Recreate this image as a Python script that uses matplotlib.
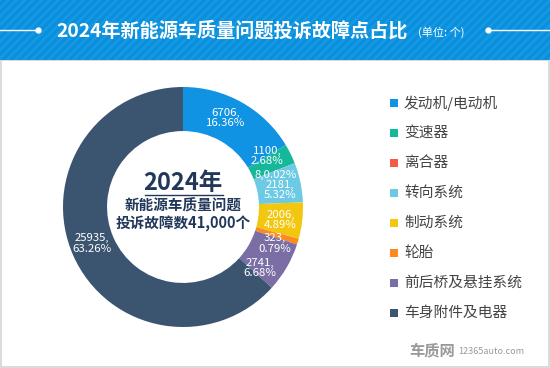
import matplotlib
matplotlib.use("Agg")
import matplotlib.pyplot as plt
from matplotlib.patches import Rectangle
import numpy as np

plt.rcParams['font.family'] = ['Noto Sans CJK SC', 'DejaVu Sans']
plt.rcParams['hatch.linewidth'] = 2.0

# 数据
categories = ['发动机/电动机', '变速器', '离合器', '转向系统', '制动系统', '轮胎', '前后桥及悬挂系统', '车身附件及电器']
counts = [6706, 1100, 8, 2181, 2006, 323, 2741, 25935]
percents = ['16.36%', '2.68%', '0.02%', '5.32%', '4.89%', '0.79%', '6.68%', '63.26%']
colors = ['#0f93e2', '#16b89b', '#f45a44', '#6ccae5', '#f3c70f', '#fc8a1e', '#7a6ea4', '#3b5470']
# 标签角度微调（度，顺时针为正），避免小扇区标签重叠
label_shift = [-4, -5, 2.5, 2, 1, 5, 8, 2]

W, H = 550, 368
fig = plt.figure(figsize=(W / 100, H / 100), dpi=100)
fig.patch.set_facecolor('white')

# 背景：顶部蓝色标题栏 + 白色面板
bg = fig.add_axes([0, 0, 1, 1])
bg.set_xlim(0, W)
bg.set_ylim(H, 0)
bg.axis('off')
bg.add_patch(Rectangle((0.5, 60), W - 1.5, H - 61, facecolor='white', edgecolor='#d4d4d4', lw=1.2))
bg.add_patch(Rectangle((0, 0), W, 60, facecolor='#0a8fdc', edgecolor='#1699e4', hatch='////', lw=0))
bg.text(232, 31, '2024年新能源车质量问题投诉故障点占比', color='white', fontsize=13.8,
        fontweight='bold', ha='center', va='center')
bg.text(441, 32, '(单位: 个)', color='white', fontsize=8, ha='center', va='center')
bg.plot([0, 37], [30, 30], color='white', lw=1)
bg.plot([38], [30], 'o', color='white', ms=3.5)
bg.plot([488, 550], [30, 30], color='white', lw=1)
bg.plot([488], [30], 'o', color='white', ms=3.5)

# 图例
for i, (name, c) in enumerate(zip(categories, colors)):
    y = 103 + i * 30
    bg.add_patch(Rectangle((389.5, y - 4), 8, 8, facecolor=c, lw=0))
    bg.text(404, y, name, color='#444444', fontsize=10.6, va='center', ha='left')

# 水印
bg.text(432, 350, '车质网', color='#9a9a9a', fontsize=11, fontweight='bold', ha='center', va='center')
bg.text(491, 351, '12365auto.com', color='#9a9a9a', fontsize=6.5, ha='center', va='center')

# 环形图
R = 120
cx, cy = 183, 207
ax = fig.add_axes([(cx - R) / W, (H - cy - R) / H, 2 * R / W, 2 * R / H])
wedges, _ = ax.pie(counts, colors=colors, startangle=90, counterclock=False, radius=1,
                   wedgeprops=dict(width=0.367, linewidth=0))
ax.set_xlim(-1, 1)
ax.set_ylim(-1, 1)
ax.set_aspect('equal')
ax.axis('off')

for w, n, p, s in zip(wedges, counts, percents, label_shift):
    ang = np.deg2rad((w.theta1 + w.theta2) / 2 - s)
    r = 0.82
    label = f'{n},{p}' if n < 100 else f'{n},\n{p}'
    ax.text(r * np.cos(ang), r * np.sin(ang), label, color='white', fontsize=8.2,
            ha='center', va='center', linespacing=1.05)

# 中心文字
ax.text(0, 0.2, '2024年', color='#22385a', fontsize=17, fontweight='bold', ha='center', va='center')
ax.plot([-0.32, 0.33], [0.1, 0.1], color='#22385a', lw=1)
ax.text(0, 0.015, '新能源车质量问题', color='#22385a', fontsize=10.5, fontweight='bold', ha='center', va='center')
ax.text(0, -0.14, '投诉故障数41,000个', color='#22385a', fontsize=10.5, fontweight='bold', ha='center', va='center')

fig.savefig('out.png', dpi=100)
